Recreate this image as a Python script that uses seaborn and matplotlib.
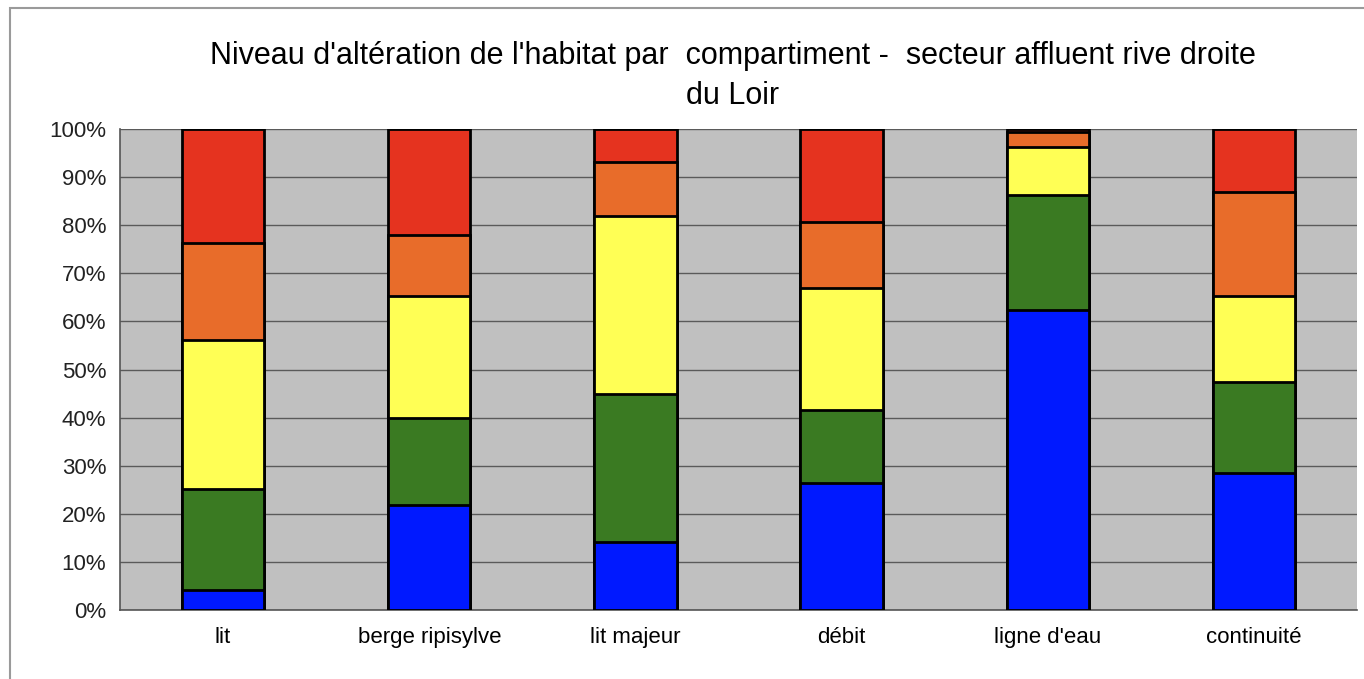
import numpy as np
import pandas as pd
import matplotlib
matplotlib.use("Agg")
import matplotlib.pyplot as plt
from matplotlib.patches import Rectangle
from matplotlib.ticker import FixedLocator, FuncFormatter
import seaborn as sns

categories = ["lit", "berge ripisylve", "lit majeur", "débit", "ligne d'eau", "continuité"]
# levels from bottom (blue) to top (red), in %
blue = [4.2, 21.8, 14.2, 26.5, 62.3, 28.4]
green = [21.0, 18.1, 30.7, 15.1, 24.0, 18.9]
yellow = [31.0, 25.4, 37.0, 25.3, 9.9, 18.0]
orange = [20.1, 12.6, 11.2, 13.7, 3.2, 21.6]
red = [23.7, 22.1, 6.9, 19.4, 0.6, 13.1]

title = "Niveau d'altération de l'habitat par  compartiment -  secteur affluent rive droite\ndu Loir"
series = [("bleu", blue, "#0019FF"), ("vert", green, "#3A7A22"),
          ("jaune", yellow, "#FFFF55"), ("orange", orange, "#E86C2A"),
          ("rouge", red, "#E5331F")]

sns.set_theme(style="white")
plt.rcParams['font.family'] = ['Liberation Sans', 'DejaVu Sans']

fig = plt.figure(figsize=(13.64, 6.79), dpi=100)
ax = fig.add_axes([120 / 1364, 1 - 610 / 679, (1357 - 120) / 1364, (610 - 129) / 679])
ax.set_facecolor("#C0C0C0")

# cumulative stacks, drawn from the top total down
cum = np.cumsum(np.array([s[1] for s in series]), axis=0)
for i in range(len(series) - 1, -1, -1):
    df = pd.DataFrame({"cat": categories, "val": cum[i]})
    sns.barplot(data=df, x="cat", y="val", color=series[i][2], saturation=1,
                width=0.4, edgecolor="black", linewidth=2.0, ax=ax, zorder=3)

ax.set_ylim(0, 100)
ax.set_xlim(-0.5, len(categories) - 0.5)
ax.set_yticks(np.arange(0, 101, 10))
ax.yaxis.set_major_formatter(FuncFormatter(lambda v, p: f"{int(v)}%"))
ax.grid(axis="y", color="#5a5a5a", linewidth=1.0, zorder=0)
ax.set_axisbelow(True)
ax.set_xlabel("")
ax.set_ylabel("")

# category labels at centers, tick marks at boundaries
ax.set_xticks(np.arange(len(categories)))
ax.set_xticklabels(categories)
ax.tick_params(axis="x", which="major", length=0, labelsize=16, pad=12, colors="black")
ax.xaxis.set_minor_locator(FixedLocator(np.arange(-0.5, len(categories), 1)))
ax.tick_params(axis="x", which="minor", length=6, width=1, color="#555555", direction="out")
ax.tick_params(axis="y", length=6, width=1, color="#555555", direction="out", labelsize=16, pad=4, labelcolor="#222222")

for side in ["top", "right"]:
    ax.spines[side].set_visible(False)
ax.spines["left"].set_color("#555555")
ax.spines["bottom"].set_color("#555555")
ax.spines["left"].set_linewidth(1.2)
ax.spines["bottom"].set_linewidth(1.2)

fig.text(733 / 1364, 1 - 76 / 679, title, ha="center", va="center",
         fontsize=22, linespacing=1.4, color="black")

# outer chart frame
fig.patches.append(Rectangle((10 / 1364, -0.05), 1.2, 1 - 8 / 679 + 0.05,
                             transform=fig.transFigure, fill=False,
                             edgecolor="#9a9a9a", linewidth=1.5))

fig.savefig("out.png", dpi=100, facecolor="white")
